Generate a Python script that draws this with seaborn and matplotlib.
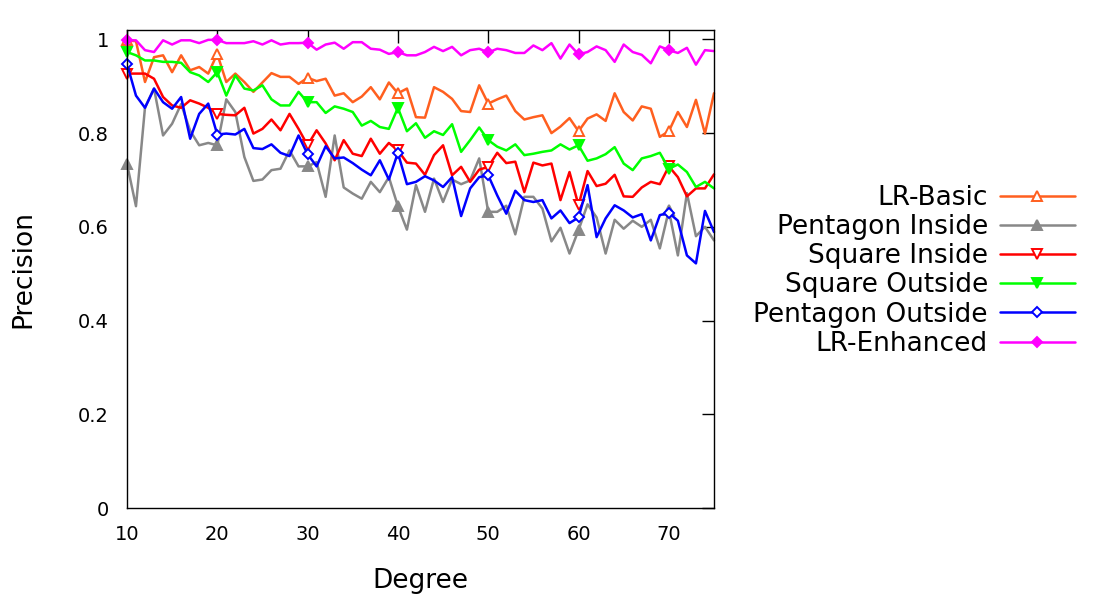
import numpy as np
import pandas as pd
import matplotlib
matplotlib.use('Agg')
import matplotlib.pyplot as plt
import seaborn as sns

# 数据
degrees = list(range(10, 76))

lr_basic = [0.998, 0.996, 0.909, 0.962, 0.966, 0.930, 0.966, 0.934, 0.941, 0.927,
            0.969, 0.909, 0.927, 0.909, 0.888, 0.908, 0.928, 0.920, 0.920, 0.905,
            0.918, 0.911, 0.916, 0.880, 0.885, 0.866, 0.878, 0.898, 0.872, 0.908,
            0.885, 0.895, 0.834, 0.833, 0.898, 0.888, 0.873, 0.847, 0.845, 0.902,
            0.863, 0.872, 0.880, 0.847, 0.829, 0.834, 0.838, 0.800, 0.814, 0.832,
            0.804, 0.831, 0.840, 0.826, 0.885, 0.845, 0.827, 0.857, 0.852, 0.792,
            0.804, 0.845, 0.813, 0.871, 0.799, 0.885]

pentagon_inside = [0.735, 0.644, 0.855, 0.895, 0.795, 0.820, 0.862, 0.805, 0.774, 0.779,
                   0.774, 0.872, 0.845, 0.749, 0.698, 0.701, 0.721, 0.724, 0.763, 0.729,
                   0.729, 0.738, 0.664, 0.795, 0.684, 0.671, 0.660, 0.696, 0.674, 0.706,
                   0.644, 0.594, 0.689, 0.632, 0.703, 0.653, 0.701, 0.691, 0.699, 0.746,
                   0.632, 0.632, 0.645, 0.584, 0.664, 0.664, 0.639, 0.569, 0.598, 0.543,
                   0.593, 0.648, 0.620, 0.543, 0.615, 0.596, 0.613, 0.600, 0.615, 0.554,
                   0.635, 0.539, 0.672, 0.580, 0.600, 0.571]

square_inside = [0.927, 0.927, 0.927, 0.916, 0.877, 0.859, 0.854, 0.870, 0.863, 0.854,
                 0.841, 0.839, 0.838, 0.854, 0.799, 0.809, 0.829, 0.806, 0.841, 0.809,
                 0.774, 0.806, 0.778, 0.742, 0.785, 0.756, 0.751, 0.788, 0.756, 0.779,
                 0.763, 0.737, 0.735, 0.711, 0.753, 0.774, 0.710, 0.728, 0.696, 0.722,
                 0.728, 0.758, 0.736, 0.739, 0.674, 0.737, 0.731, 0.735, 0.657, 0.717,
                 0.646, 0.719, 0.687, 0.692, 0.711, 0.665, 0.664, 0.684, 0.696, 0.691,
                 0.729, 0.706, 0.665, 0.682, 0.682, 0.712]

square_outside = [0.973, 0.966, 0.955, 0.955, 0.952, 0.952, 0.950, 0.930, 0.923, 0.909,
                  0.930, 0.880, 0.923, 0.895, 0.891, 0.902, 0.872, 0.859, 0.859, 0.888,
                  0.866, 0.866, 0.843, 0.857, 0.852, 0.845, 0.816, 0.826, 0.813, 0.809,
                  0.854, 0.804, 0.821, 0.790, 0.804, 0.796, 0.819, 0.760, 0.785, 0.812,
                  0.785, 0.771, 0.763, 0.776, 0.753, 0.756, 0.760, 0.763, 0.776, 0.765,
                  0.774, 0.741, 0.746, 0.755, 0.770, 0.735, 0.721, 0.746, 0.751, 0.758,
                  0.724, 0.733, 0.717, 0.685, 0.696, 0.682]

pentagon_outside = [0.948, 0.880, 0.854, 0.895, 0.866, 0.852, 0.877, 0.788, 0.841, 0.863,
                    0.797, 0.799, 0.797, 0.809, 0.768, 0.766, 0.776, 0.758, 0.751, 0.795,
                    0.755, 0.729, 0.772, 0.746, 0.748, 0.736, 0.722, 0.710, 0.742, 0.701,
                    0.758, 0.691, 0.696, 0.708, 0.699, 0.685, 0.706, 0.623, 0.682, 0.706,
                    0.710, 0.667, 0.628, 0.677, 0.657, 0.653, 0.657, 0.618, 0.635, 0.608,
                    0.620, 0.689, 0.578, 0.618, 0.646, 0.635, 0.620, 0.627, 0.571, 0.625,
                    0.630, 0.613, 0.539, 0.522, 0.634, 0.589]

lr_enhanced = [0.998, 0.998, 0.977, 0.973, 0.998, 0.989, 0.998, 0.998, 0.992, 0.999,
               0.999, 0.992, 0.992, 0.992, 0.996, 0.989, 0.998, 0.989, 0.992, 0.992,
               0.993, 0.978, 0.989, 0.993, 0.980, 0.994, 0.994, 0.980, 0.978, 0.969,
               0.973, 0.966, 0.966, 0.973, 0.984, 0.975, 0.984, 0.966, 0.977, 0.980,
               0.972, 0.980, 0.977, 0.971, 0.971, 0.987, 0.977, 0.992, 0.959, 0.989,
               0.968, 0.973, 0.985, 0.977, 0.952, 0.989, 0.973, 0.967, 0.949, 0.985,
               0.977, 0.971, 0.982, 0.946, 0.977, 0.975]

names = ['LR-Basic', 'Pentagon Inside', 'Square Inside', 'Square Outside',
         'Pentagon Outside', 'LR-Enhanced']
series = [lr_basic, pentagon_inside, square_inside, square_outside,
          pentagon_outside, lr_enhanced]

# 样式：颜色、标记、填充色、大小
styles = [
    ('#ff5f1f', '^', 'white', 7.5),
    ('#888888', '^', '#888888', 7.5),
    ('#ff0000', 'v', 'white', 7.5),
    ('#00ff00', 'v', '#00ff00', 7.5),
    ('#0000ff', 'D', 'white', 5.5),
    ('#ff00ff', 'D', '#ff00ff', 5.5),
]

sns.set_style('white')
plt.rcParams['font.family'] = ['DejaVu Sans']
plt.rcParams['text.color'] = 'black'
plt.rcParams['axes.labelcolor'] = 'black'

fig = plt.figure(figsize=(11, 6), dpi=100)
ax = fig.add_axes([0.1154, 0.1533, 0.5337, 0.7967])

for name, vals, (c, m, fc, ms) in zip(names, series, styles):
    sns.lineplot(x=degrees, y=vals, ax=ax, color=c, lw=1.8, marker=m,
                 markevery=10, ms=ms, mfc=fc, mec=c, mew=1.4,
                 label=name, errorbar=None, sort=False, clip_on=False)

ax.set_xlim(10, 75)
ax.set_ylim(0, 1.02)
ax.set_xticks([10, 20, 30, 40, 50, 60, 70])
ax.set_yticks([0, 0.2, 0.4, 0.6, 0.8, 1.0])
ax.set_yticklabels(['0', '0.2', '0.4', '0.6', '0.8', '1'])
ax.tick_params(direction='in', length=9, width=1, top=True, right=True,
               labelsize=14, color='black', labelcolor='black')
ax.tick_params(axis='x', pad=12)
ax.tick_params(axis='y', pad=13)
for s in ax.spines.values():
    s.set_visible(True)
    s.set_color('black')
    s.set_linewidth(1.0)

ax.set_xlabel('Degree', fontsize=19, color='black')
ax.set_ylabel('Precision', fontsize=19, color='black')
ax.xaxis.set_label_coords(0.5, -0.125)
ax.yaxis.set_label_coords(-0.155, 0.5)

handles, labels = ax.get_legend_handles_labels()
ax.legend(handles, labels, loc='upper right',
          bbox_to_anchor=(1075 / 1100, 1 - 185 / 600),
          bbox_transform=fig.transFigure, frameon=False, fontsize=19,
          markerfirst=False, handlelength=2.85, handletextpad=0.45,
          labelspacing=0.12, borderpad=0, borderaxespad=0)

fig.savefig('out.png', dpi=100)
